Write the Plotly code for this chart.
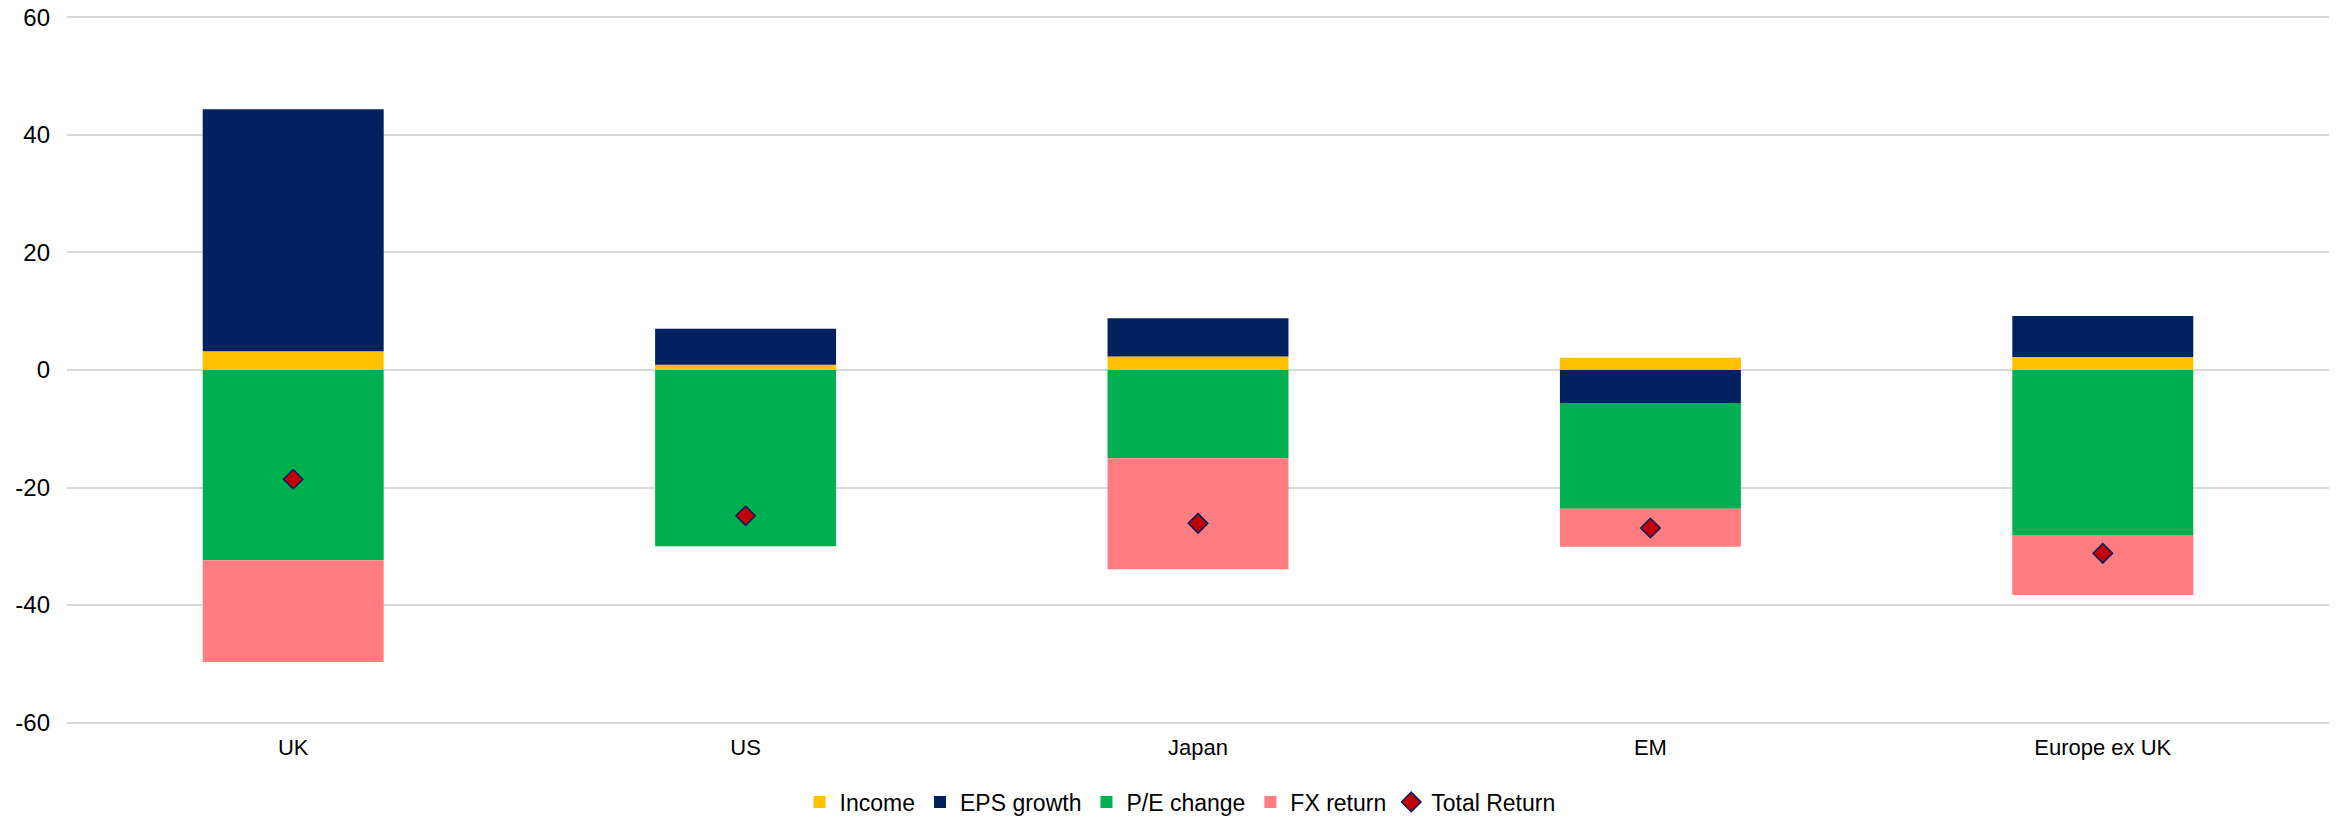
import plotly.graph_objects as go

regions = ["UK", "US", "Japan", "EM", "Europe ex UK"]
income = [3.2, 0.9, 2.3, 2.1, 2.2]
eps_growth = [41.2, 6.1, 6.5, -5.6, 7.0]
pe_change = [-32.4, -30.0, -15.0, -18.0, -28.1]
fx_return = [-17.3, 0.0, -18.9, -6.5, -10.2]
total_return = [-18.6, -24.8, -26.1, -26.9, -31.2]
y_ticks = [60, 40, 20, 0, -20, -40, -60]
y_tick_text = ["60", "40", "20", "0", "-20", "-40", "-60"]

FONT = "Arial, 'Liberation Sans', sans-serif"

fig = go.Figure()
for name, vals, col in [
    ("Income", income, "#FFC000"),
    ("EPS growth", eps_growth, "#002060"),
    ("P/E change", pe_change, "#00B050"),
    ("FX return", fx_return, "#FF7C80"),
]:
    fig.add_trace(go.Bar(x=regions, y=vals, name=name,
                         marker=dict(color=col, line=dict(width=0))))

fig.add_trace(go.Scatter(x=regions, y=total_return, name="Total Return", mode="markers",
                         marker=dict(symbol="diamond", size=15, color="#C00000",
                                     line=dict(color="#002060", width=1.5))))

fig.update_layout(
    width=2340, height=817,
    margin=dict(l=67, r=11, t=16, b=93, autoexpand=False),
    barmode="relative", bargap=0.6,
    plot_bgcolor="white", paper_bgcolor="white",
    font=dict(family=FONT, size=23, color="#000000"),
    showlegend=True,
    legend=dict(orientation="h", xref="container", yref="container",
                x=0.5043, xanchor="center", y=0.0184, yanchor="middle",
                font=dict(size=23), itemwidth=30, traceorder="normal"),
    xaxis=dict(range=[-0.5, 4.5], showgrid=False, zeroline=False, showline=False,
               ticks="", tickfont=dict(size=22), ticklabelstandoff=8, automargin=False),
    yaxis=dict(range=[-60.25, 60.25], tickvals=y_ticks, ticktext=y_tick_text, showgrid=True,
               gridcolor="#D9D9D9", gridwidth=1.5, zeroline=False, showline=False, ticks="",
               tickfont=dict(size=24), ticklabelstandoff=16, automargin=False,
               ticklabeloverflow="allow"),
)

fig.write_html("out.html", config={"displayModeBar": False},
               post_script="document.body.style.margin='0';document.body.style.overflow='hidden';")
